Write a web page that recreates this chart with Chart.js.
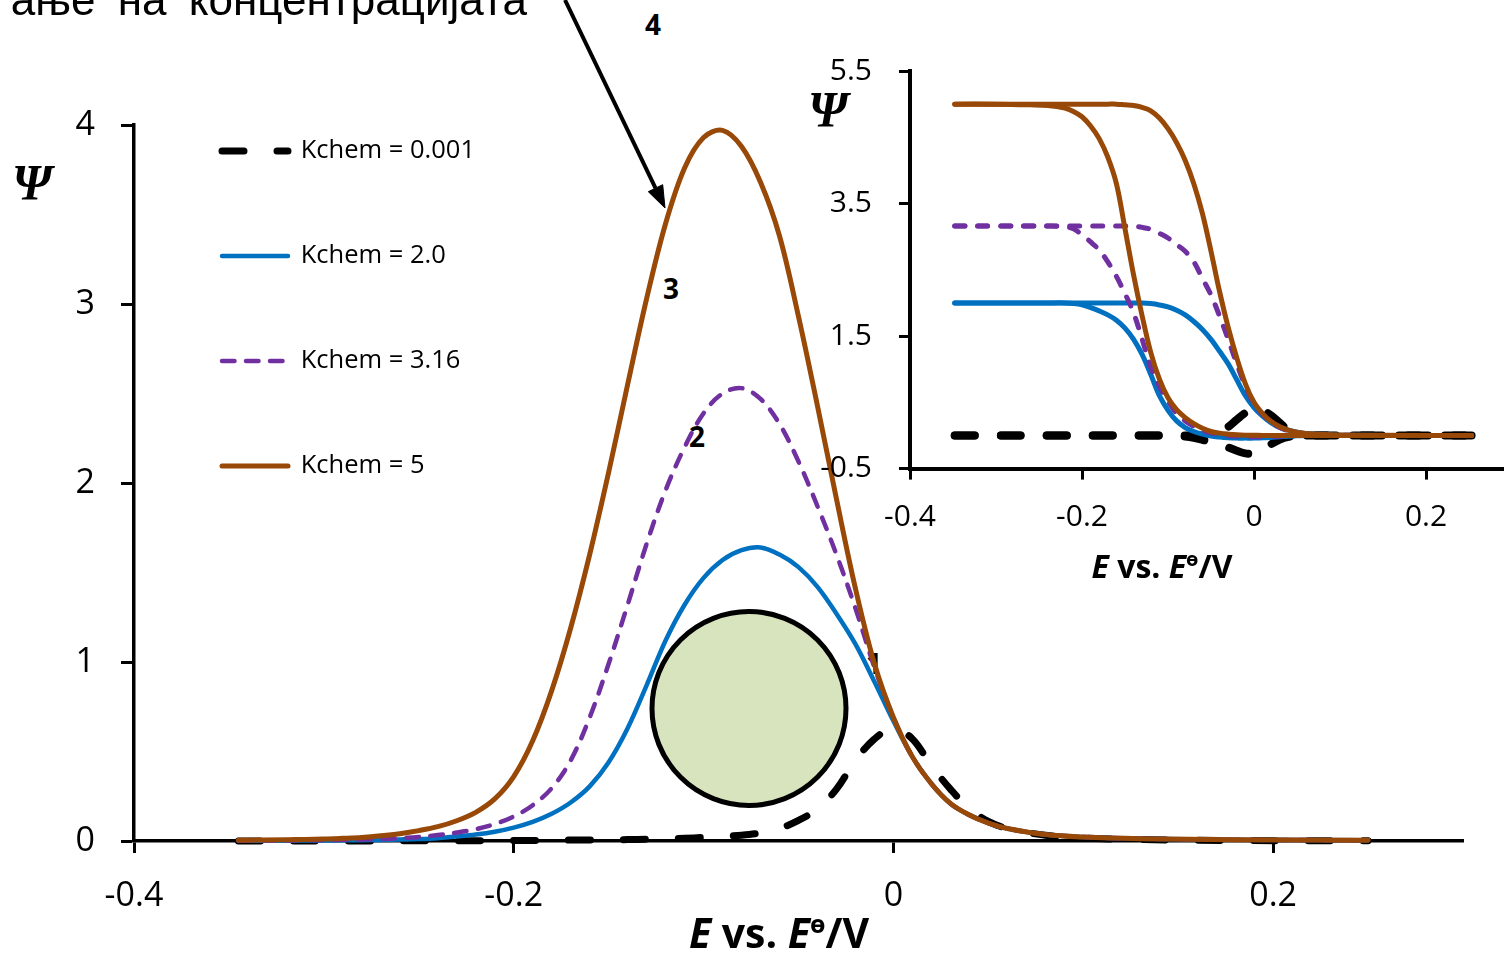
<!DOCTYPE html>
<html>
<head>
<meta charset="utf-8">
<script src="https://cdn.jsdelivr.net/npm/chart.js@4"></script>
<style>
html,body{margin:0;padding:0;width:1504px;height:956px;overflow:hidden;background:#fff;}
#wrap{position:relative;width:1504px;height:956px;overflow:hidden;}
canvas{position:absolute;}
#main{left:0;top:0;width:1504px;height:956px;}
#inset{left:780px;top:26px;width:740px;height:574px;}
svg{position:absolute;left:0;top:0;pointer-events:none;}
</style>
</head>
<body>
<div id="wrap">
<svg id="back" width="1504" height="956">
  <g font-family="Open Sans" font-weight="bold" font-size="28" fill="#000">
    <text x="645" y="35">4</text>
    <text x="663" y="299">3</text>
    <text x="689" y="447">2</text>
    <text x="866" y="674">1</text>
  </g>
</svg>
<canvas id="main" width="1504" height="956"></canvas>
<canvas id="inset" width="740" height="574"></canvas>
<svg id="front" width="1504" height="956">
  <text x="527" y="15" text-anchor="end" font-family="Liberation Sans" font-size="44" fill="#000" style="word-spacing:10px">ање на концентрацијата</text>
  <line x1="565" y1="0" x2="655.5" y2="188.2" stroke="#000" stroke-width="4"/>
  <polygon points="665,208 648.3,191.7 662.7,184.7" fill="#000" stroke="#000" stroke-width="1"/>
  <circle cx="749" cy="708.5" r="97" fill="#D7E4BD" stroke="#000" stroke-width="5"/>
  <text x="12" y="199" font-family="Liberation Serif" font-weight="bold" font-style="italic" font-size="50" fill="#000">Ψ</text>
  <text x="808" y="126" font-family="Liberation Serif" font-weight="bold" font-style="italic" font-size="50" fill="#000">Ψ</text>
  <text x="779" y="948" text-anchor="middle" font-family="Open Sans" font-weight="bold" font-size="41" fill="#000"><tspan font-style="italic">E</tspan> vs. <tspan font-style="italic">E</tspan><tspan font-size="25" dy="-15">ө</tspan><tspan dy="15">/V</tspan></text>
  <text x="1162" y="578" text-anchor="middle" font-family="Open Sans" font-weight="bold" font-size="32" fill="#000"><tspan font-style="italic">E</tspan> vs. <tspan font-style="italic">E</tspan><tspan font-size="20" dy="-12">ө</tspan><tspan dy="12">/V</tspan></text>
</svg>
</div>
<script>
// ---------- main chart data ----------
const mainE = [-0.345,-0.32,-0.30,-0.29,-0.28,-0.27,-0.26,-0.25,-0.24,-0.23,-0.22,-0.21,-0.20,-0.19,-0.18,-0.17,-0.16,-0.15,-0.14,-0.13,-0.12,-0.11,-0.10,-0.09,-0.08,-0.07,-0.06,-0.05,-0.04,-0.03,-0.02,-0.01,0,0.01,0.02,0.03,0.04,0.05,0.06,0.08,0.10,0.13,0.18,0.25];
const psiK0001 = [0,0,0,0,0,0.001,0.001,0.001,0.001,0.002,0.002,0.002,0.003,0.003,0.004,0.005,0.005,0.006,0.008,0.010,0.012,0.015,0.02,0.026,0.032,0.045,0.07,0.115,0.18,0.29,0.45,0.57,0.63,0.57,0.42,0.29,0.18,0.11,0.07,0.032,0.017,0.008,0.003,0.001];
const psiK2    = [0.001,0.002,0.003,0.0035,0.004,0.006,0.008,0.011,0.016,0.025,0.036,0.052,0.075,0.107,0.152,0.215,0.305,0.44,0.63,0.87,1.12,1.32,1.47,1.57,1.625,1.64,1.60,1.53,1.42,1.27,1.10,0.89,0.67,0.47,0.32,0.21,0.145,0.10,0.07,0.036,0.022,0.013,0.007,0.004];
const psiK316  = [0.002,0.003,0.005,0.0065,0.008,0.011,0.016,0.023,0.033,0.047,0.066,0.095,0.137,0.20,0.295,0.45,0.69,0.99,1.32,1.66,1.96,2.20,2.39,2.50,2.53,2.47,2.33,2.12,1.87,1.60,1.30,0.97,0.69,0.47,0.32,0.21,0.145,0.10,0.07,0.036,0.022,0.013,0.007,0.004];
const psiK5    = [0.004,0.007,0.011,0.015,0.020,0.029,0.041,0.058,0.080,0.113,0.160,0.235,0.36,0.56,0.84,1.19,1.60,2.06,2.55,3.03,3.45,3.76,3.93,3.97,3.88,3.68,3.38,2.93,2.43,1.91,1.41,0.99,0.69,0.47,0.32,0.21,0.145,0.10,0.07,0.036,0.022,0.013,0.007,0.004];
const seriesLabels = ['Kchem = 0.001','Kchem = 2.0','Kchem = 3.16','Kchem = 5'];
const mainXTicks = [-0.4,-0.2,0,0.2];
const mainYTicks = [0,1,2,3,4];

// ---------- inset data (two branches per curve) ----------
const insetE = [-0.348,-0.30,-0.26,-0.24,-0.22,-0.21,-0.20,-0.19,-0.18,-0.17,-0.16,-0.15,-0.14,-0.13,-0.12,-0.11,-0.10,-0.09,-0.08,-0.07,-0.06,-0.05,-0.04,-0.03,-0.02,-0.01,0,0.01,0.02,0.03,0.04,0.05,0.06,0.08,0.10,0.15,0.253];
const insK5a   = [5.0,5.0,4.99,4.98,4.94,4.89,4.81,4.67,4.48,4.20,3.80,3.12,2.42,1.80,1.25,0.85,0.57,0.39,0.27,0.18,0.11,0.06,0.035,0.02,0.01,0.005,0.003,0,0,0,0,0,0,0,0,0,0];
const insK5b   = [5.0,5.0,5.0,5.0,5.0,5.0,5.0,5.0,5.0,5.0,5.0,4.99,4.98,4.95,4.90,4.79,4.63,4.42,4.15,3.80,3.35,2.78,2.17,1.63,1.17,0.78,0.50,0.33,0.21,0.13,0.08,0.05,0.03,0.015,0.008,0.003,0];
const insK316a = [3.16,3.16,3.16,3.16,3.15,3.12,3.03,2.92,2.80,2.62,2.40,2.14,1.85,1.45,1.03,0.74,0.52,0.33,0.22,0.14,0.08,0.04,0.02,0,-0.01,-0.02,-0.02,-0.02,-0.015,-0.01,-0.005,0,0,0,0,0,0];
const insK316b = [3.16,3.16,3.16,3.16,3.16,3.16,3.16,3.16,3.16,3.16,3.16,3.16,3.16,3.14,3.11,3.05,2.98,2.88,2.78,2.62,2.37,2.12,1.80,1.45,1.08,0.74,0.48,0.32,0.20,0.12,0.07,0.04,0.02,0.01,0.005,0,0];
const insK2a   = [2.0,2.0,2.0,2.0,2.0,1.99,1.97,1.93,1.88,1.82,1.74,1.62,1.45,1.22,0.92,0.60,0.38,0.22,0.12,0.06,0.02,-0.01,-0.025,-0.035,-0.04,-0.04,-0.04,-0.035,-0.03,-0.02,-0.01,-0.005,0,0,0,0,0];
const insK2b   = [2.0,2.0,2.0,2.0,2.0,2.0,2.0,2.0,2.0,2.0,2.0,2.0,2.0,2.0,1.99,1.97,1.94,1.89,1.82,1.72,1.60,1.45,1.27,1.08,0.84,0.60,0.42,0.29,0.19,0.12,0.08,0.05,0.03,0.01,0.005,0,0];
const insK0001a = [0,0,0,0,0,0,0,0,0,0,0,0,0,0,0,0,0,0,0,0,0,0.01,0.05,0.13,0.24,0.34,0.40,0.38,0.30,0.19,0.08,0.02,0,0,0,0,0];
const insK0001b = [0,0,0,0,0,0,0,0,0,0,0,0,0,0,0,0,0,-0.005,-0.015,-0.035,-0.065,-0.10,-0.14,-0.18,-0.23,-0.27,-0.27,-0.22,-0.13,-0.06,-0.02,-0.005,0,0,0,0,0];
const insetXTicks = [-0.4,-0.2,0,0.2];
const insetYTicks = [-0.5,1.5,3.5,5.5];

// ---------- styles ----------
const COL_BLACK = '#000000', COL_BLUE = '#0070C0', COL_PURPLE = '#7030A0', COL_BROWN = '#984807';
const pts = (xs, ys) => xs.map((x, i) => ({x: x, y: ys[i]}));
const fmt = v => { const r = Math.round(v * 10) / 10; return r === 0 ? '0' : String(r); };
const baseDs = {pointRadius: 0, pointHoverRadius: 0, fill: false, tension: 0.35, clip: false, borderJoinStyle: 'round', borderCapStyle: 'round'};

Chart.defaults.font.family = 'Open Sans';
Chart.defaults.color = '#000';

const legendPos = {
  id: 'legendPos',
  afterLayout(chart) {
    const lg = chart.legend;
    if (!lg) return;
    const pad = 79.5;
    lg.left = 222 - pad;
    lg.top = 138.25 - pad;
    lg.right = lg.left + lg.width;
    lg.bottom = lg.top + lg.height;
  }
};

function axisCommon(tickList, fontSize, pad, tickLen, borderW) {
  return {
    type: 'linear',
    afterBuildTicks: s => { s.ticks = tickList.map(v => ({value: v})); },
    ticks: {color: '#000', font: {family: 'Open Sans', size: fontSize}, padding: pad, callback: v => fmt(v), autoSkip: false, maxRotation: 0},
    grid: {display: true, drawOnChartArea: false, drawTicks: true, tickLength: tickLen, tickWidth: 3, tickColor: '#000'},
    border: {display: true, color: '#000', width: borderW}
  };
}

// ---------- main chart ----------
const mainX = Object.assign(axisCommon(mainXTicks, 34, 23, 12, 3.5), {min: -0.4, max: 0.3, position: 'bottom', afterFit: s => { s.height = 115; }});
const mainY = Object.assign(axisCommon(mainYTicks, 34, 26, 13, 3.5), {min: 0, max: 4, position: 'left', afterFit: s => { s.width = 134; }});

new Chart(document.getElementById('main'), {
  type: 'line',
  data: {
    datasets: [
      Object.assign({}, baseDs, {label: seriesLabels[0], data: pts(mainE, psiK0001), borderColor: COL_BLACK, backgroundColor: COL_BLACK, borderWidth: 7, borderDash: [22, 33], order: 4}),
      Object.assign({}, baseDs, {label: seriesLabels[1], data: pts(mainE, psiK2), borderColor: COL_BLUE, backgroundColor: COL_BLUE, borderWidth: 4.5, order: 3}),
      Object.assign({}, baseDs, {label: seriesLabels[2], data: pts(mainE, psiK316), borderColor: COL_PURPLE, backgroundColor: COL_PURPLE, borderWidth: 4.5, borderDash: [12.5, 11.5], order: 2}),
      Object.assign({}, baseDs, {label: seriesLabels[3], data: pts(mainE, psiK5), borderColor: COL_BROWN, backgroundColor: COL_BROWN, borderWidth: 5, order: 1})
    ]
  },
  options: {
    responsive: false, animation: false, events: [],
    layout: {padding: {left: 0, top: 125, right: 41, bottom: 0}},
    scales: {x: mainX, y: mainY},
    plugins: {
      tooltip: {enabled: false},
      legend: {
        display: true, position: 'chartArea', align: 'start',
        labels: {
          usePointStyle: true, pointStyle: 'line', pointStyleWidth: 66, boxHeight: 25.5,
          padding: 79.5, color: '#000', font: {family: 'Open Sans', size: 25.5},
          generateLabels: chart => chart.data.datasets.map((ds, i) => ({
            text: ds.label, fillStyle: ds.borderColor, strokeStyle: ds.borderColor,
            lineWidth: ds.borderWidth, lineDash: ds.borderDash || [], lineCap: 'round', lineJoin: 'round',
            pointStyle: 'line', hidden: false, datasetIndex: i, fontColor: '#000'
          }))
        }
      }
    }
  },
  plugins: [legendPos]
});

// ---------- inset chart ----------
const insX = Object.assign(axisCommon(insetXTicks, 30, 20, 11, 4), {min: -0.4, max: 0.3, position: 'bottom', afterFit: s => { s.height = 131.4; }});
const insY = Object.assign(axisCommon(insetYTicks, 30, 27, 11, 4), {min: -0.5, max: 5.5, position: 'left', afterFit: s => { s.width = 130; }});
const insDs = (lbl, ys, col, w, dash, ord) => Object.assign({}, baseDs, {label: lbl, data: pts(insetE, ys), borderColor: col, backgroundColor: col, borderWidth: w, borderDash: dash, order: ord});

new Chart(document.getElementById('inset'), {
  type: 'line',
  data: {
    datasets: [
      insDs(seriesLabels[0], insK0001a, COL_BLACK, 8, [20, 26], 4),
      insDs(seriesLabels[0], insK0001b, COL_BLACK, 8, [20, 26], 4),
      insDs(seriesLabels[1], insK2a, COL_BLUE, 5, [], 3),
      insDs(seriesLabels[1], insK2b, COL_BLUE, 5, [], 3),
      insDs(seriesLabels[2], insK316a, COL_PURPLE, 5, [10, 13], 2),
      insDs(seriesLabels[2], insK316b, COL_PURPLE, 5, [10, 13], 2),
      insDs(seriesLabels[3], insK5a, COL_BROWN, 5, [], 1),
      insDs(seriesLabels[3], insK5b, COL_BROWN, 5, [], 1)
    ]
  },
  options: {
    responsive: false, animation: false, events: [],
    layout: {padding: {left: 0, top: 44.8, right: 8, bottom: 0}},
    scales: {x: insX, y: insY},
    plugins: {tooltip: {enabled: false}, legend: {display: false}}
  }
});
</script>
</body>
</html>
